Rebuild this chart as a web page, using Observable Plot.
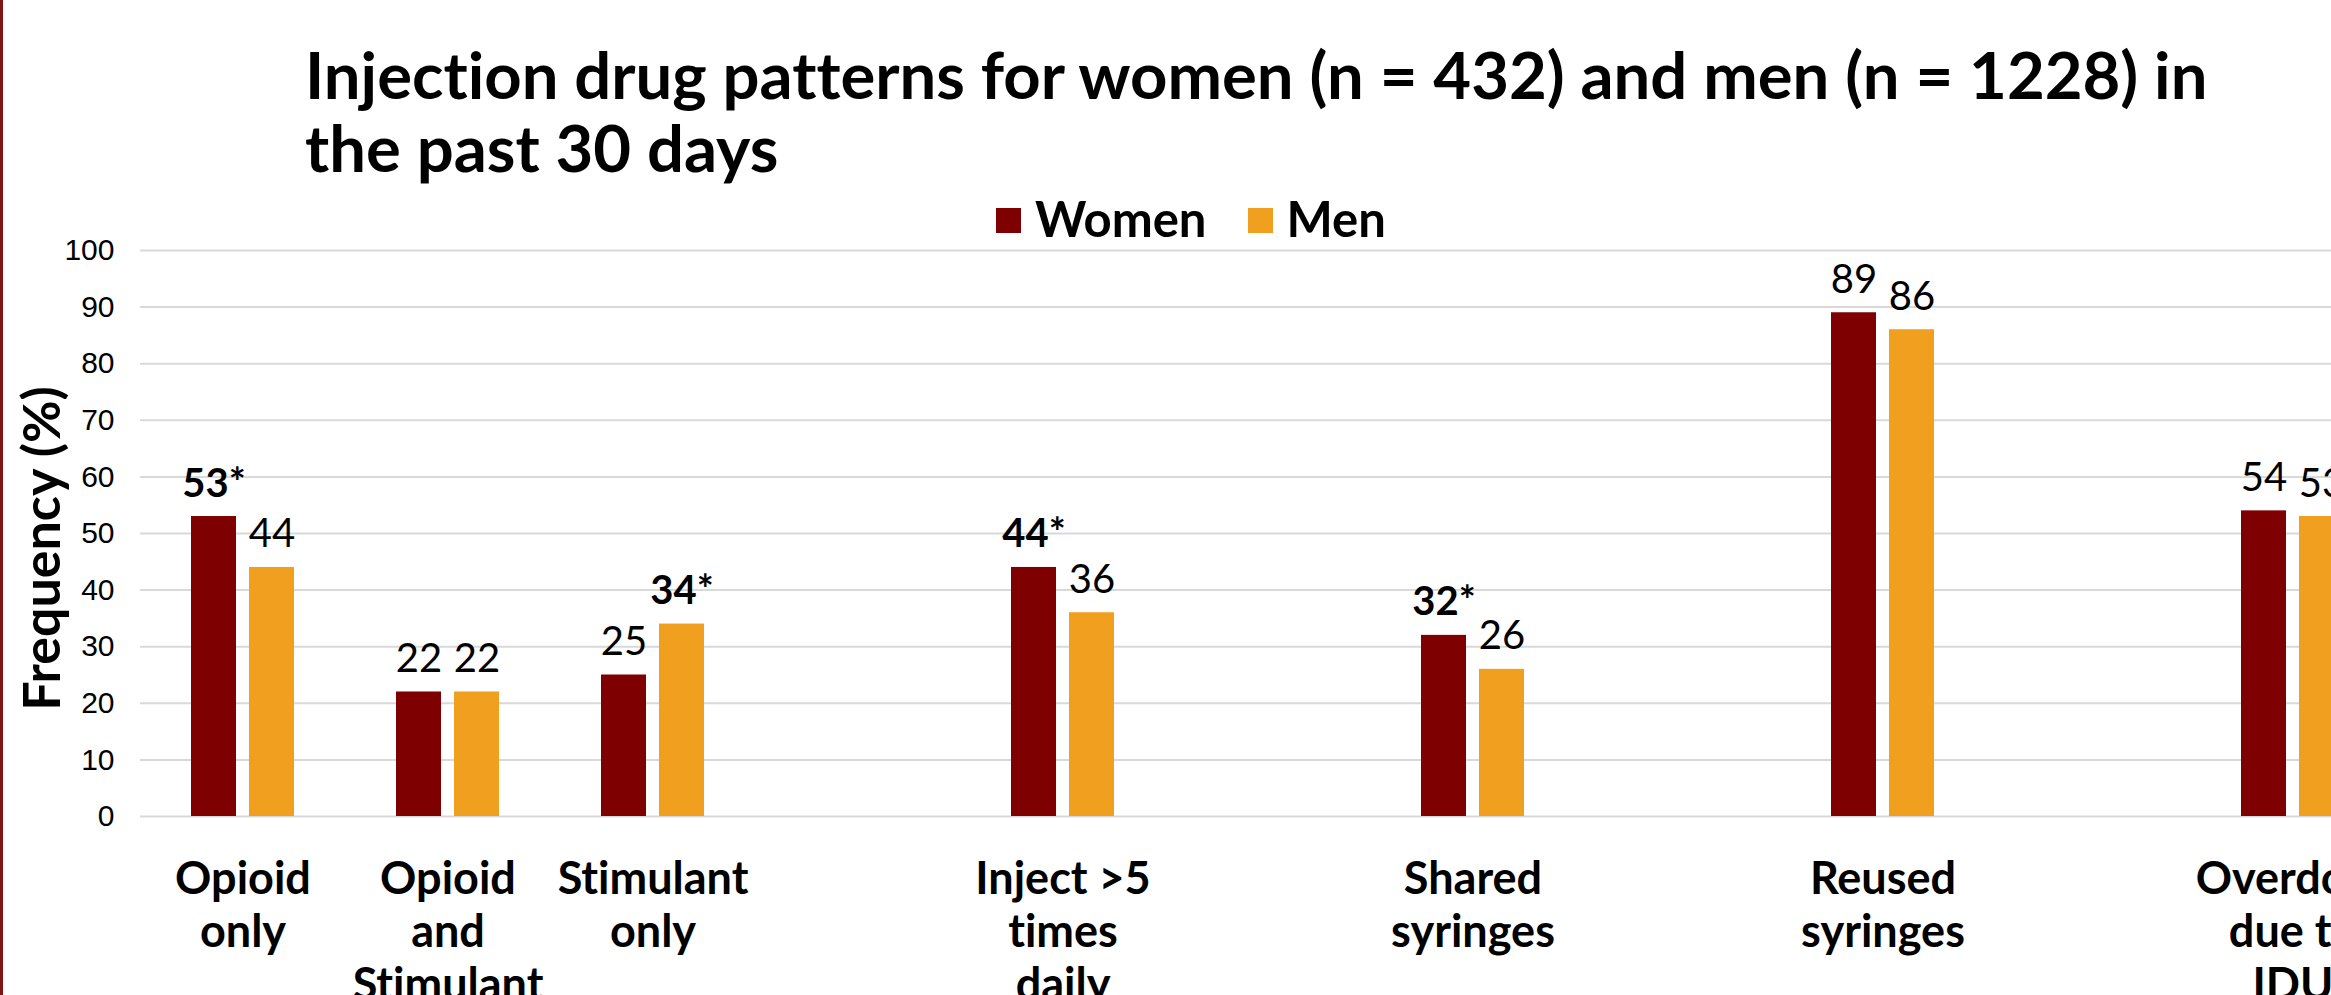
<!DOCTYPE html>
<html>
<head>
<meta charset="utf-8">
<script src="https://cdn.jsdelivr.net/npm/d3@7"></script>
<script src="https://cdn.jsdelivr.net/npm/@observablehq/plot@0.6"></script>
<style>
  html, body { margin: 0; padding: 0; background: #fff; overflow: hidden; }
  #page { position: relative; width: 2331px; height: 995px; overflow: hidden; font-family: Lato, sans-serif; color: #000; font-variant-ligatures: none; }
  #page svg text { font-variant-ligatures: none; }
  #edge { position: absolute; left: 0; top: 0; width: 3px; height: 995px; background: #7f1414; z-index: 2; }
  #title { padding: 38px 0 0 305px; font-size: 65.2px; font-weight: bold; line-height: 73px; white-space: nowrap; }
  #legend { margin-top: 9px; height: 51px; line-height: 50px; padding-left: 996px; font-size: 49px; font-weight: bold; white-space: nowrap; }
  #legend .item { display: inline-block; margin-right: 41px; }
  #legend .sw { display: inline-block; width: 25px; height: 25px; vertical-align: 4px; margin-right: 14px; }
</style>
</head>
<body>
<div id="page">
  <div id="edge"></div>
  <div id="title">Injection drug patterns for women (n = 432) and men (n = 1228) in<br>the past 30 days</div>
  <div id="legend"></div>
  <div id="chart"></div>
</div>
<script>
// ---- data ----
const categories = ["Opioid only", "Opioid and Stimulant", "Stimulant only", "Inject >5 times daily", "Shared syringes", "Reused syringes", "Overdose due to IDU"];
const categoryLines = ["Opioid\nonly", "Opioid\nand\nStimulant", "Stimulant\nonly", "Inject >5\ntimes\ndaily", "Shared\nsyringes", "Reused\nsyringes", "Overdose\ndue to\nIDU"];
const series = ["Women", "Men"];
const women = [53, 22, 25, 44, 32, 89, 54];
const men = [44, 22, 34, 36, 26, 86, 53];
const womenSig = [true, false, false, true, true, false, false];
const menSig = [false, false, true, false, false, false, false];
const yTicks = [0, 10, 20, 30, 40, 50, 60, 70, 80, 90, 100];
const yTitle = "Frequency (%)";
const colors = ["#7f0000", "#f0a01e"];
// empty category slots follow these categories in the original layout
const gapAfter = ["Stimulant only", "Inject >5 times daily", "Shared syringes", "Reused syringes"];

// ---- derived tables ----
const slots = [];
categories.forEach((c, i) => { slots.push(c); if (gapAfter.includes(c)) slots.push("gap" + i); });
const labelMap = new Map(categories.map((c, i) => [c, categoryLines[i]]));
const rows = [];
categories.forEach((c, i) => {
  rows.push({category: c, series: "Women", value: women[i], sig: womenSig[i]});
  rows.push({category: c, series: "Men", value: men[i], sig: menSig[i]});
});
const gridRows = slots.flatMap(s => yTicks.map(t => ({slot: s, tick: t})));

// legend
const legend = document.getElementById("legend");
series.forEach((s, i) => {
  const item = document.createElement("span");
  item.className = "item";
  const sw = document.createElement("span");
  sw.className = "sw";
  sw.style.background = colors[i];
  item.appendChild(sw);
  item.appendChild(document.createTextNode(s));
  legend.appendChild(item);
});

const chart = Plot.plot({
  width: 2420,
  height: 751,
  marginLeft: 139,
  marginRight: 24,
  marginTop: 6,
  marginBottom: 179,
  style: {fontFamily: "Lato, sans-serif", overflow: "visible", maxWidth: "none", background: "transparent"},
  fx: {domain: slots, padding: 0},
  x: {domain: series, axis: null, paddingInner: 0.22, paddingOuter: 0.85},
  y: {domain: [0, 100]},
  color: {domain: series, range: colors},
  marks: [
    Plot.ruleY(gridRows, {fx: "slot", y: "tick", stroke: "#d9d9d9", strokeWidth: 2}),
    Plot.barY(rows, {fx: "category", x: "series", y: "value", fill: "series"}),
    Plot.text(rows.filter(d => !d.sig), {fx: "category", x: "series", y: "value", text: d => String(d.value),
      lineAnchor: "bottom", dy: -20, fontSize: 40, fill: "#000"}),
    Plot.text(rows.filter(d => d.sig), {fx: "category", x: "series", y: "value", text: d => d.value + "*",
      lineAnchor: "bottom", dy: -20, fontSize: 40, fontWeight: "bold", fill: "#000"}),
    Plot.axisY({ticks: yTicks, tickSize: 0, tickPadding: 26, fontSize: 30, fontFamily: "Liberation Sans, Arial, sans-serif", label: null}),
    Plot.text([yTitle], {text: d => d, frameAnchor: "left", facetAnchor: "left", rotate: -90, lineAnchor: "top", textAnchor: "middle",
      dx: -117, dy: 15, fontSize: 52, fontWeight: "bold", fill: "#000"}),
    Plot.axisFx({anchor: "bottom", tickSize: 0, tickPadding: 40, fontSize: 45, fontWeight: "bold", lineHeight: 53 / 45,
      label: null, tickFormat: s => labelMap.get(s) ?? ""})
  ]
});
document.getElementById("chart").appendChild(chart);
</script>
</body>
</html>
